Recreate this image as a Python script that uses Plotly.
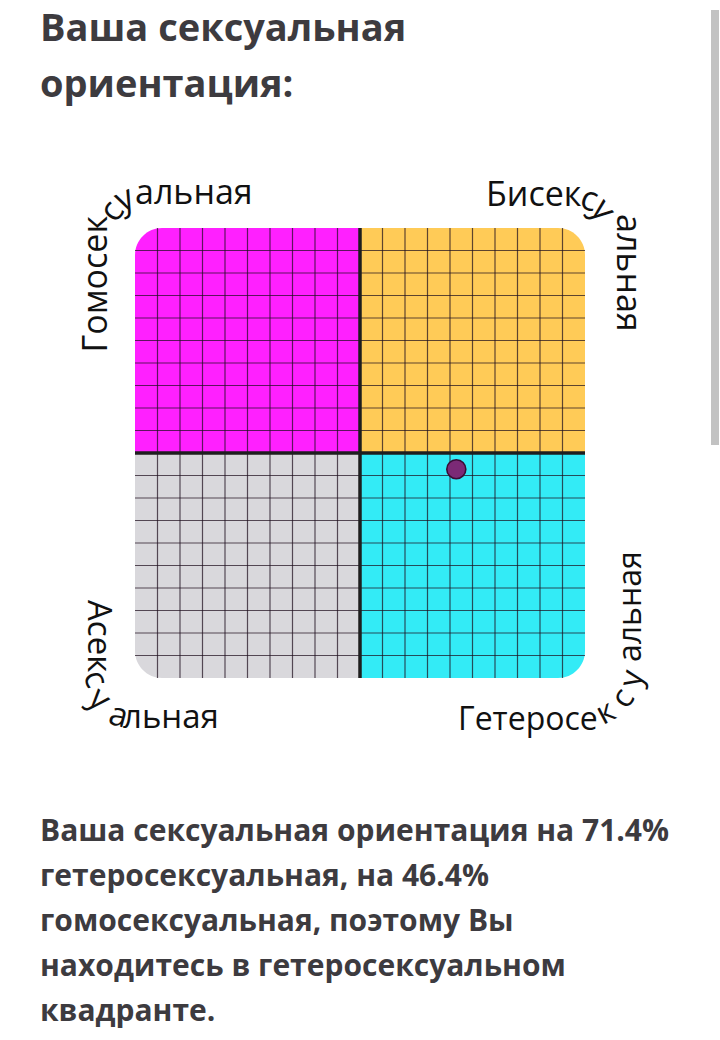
import plotly.graph_objects as go

# ---------------- data ----------------
title_lines = ["Ваша сексуальная", "ориентация:"]
result_lines = [
    "Ваша сексуальная ориентация на 71.4%",
    "гетеросексуальная, на 46.4%",
    "гомосексуальная, поэтому Вы",
    "находитесь в гетеросексуальном",
    "квадранте.",
]
quadrant_names = ["Гомосексуальная", "Бисексуальная", "Асексуальная", "Гетеросексуальная"]
hetero_pct = [71.4]   # x
homo_pct = [46.4]     # y
grid_ticks = [i * 5 for i in range(1, 20) if i != 10]

# ---------------- geometry helpers ----------------
W, H = 720, 1040
L, R, T, B = 135, 585, 228, 678


def px(x):
    return (x - L) / (R - L)


def py(y):
    return (B - y) / (B - T)


fig = go.Figure()

# quadrant fills with rounded outer corners
r = 6.0
k = 0.5523 * r
colors = {"tl": "#ff20ff", "tr": "#ffcb57", "bl": "#d9d8dc", "br": "#33ebf6"}
paths = {
    "tl": f"M 0 50 L 0 {100-r} C 0 {100-r+k} {r-k} 100 {r} 100 L 50 100 L 50 50 Z",
    "tr": f"M 50 50 L 50 100 L {100-r} 100 C {100-r+k} 100 100 {100-r+k} 100 {100-r} L 100 50 Z",
    "bl": f"M 0 50 L 50 50 L 50 0 L {r} 0 C {r-k} 0 0 {r-k} 0 {r} Z",
    "br": f"M 50 50 L 100 50 L 100 {r} C 100 {r-k} {100-r+k} 0 {100-r} 0 L 50 0 Z",
}
shapes = []
for q in ["tl", "tr", "bl", "br"]:
    shapes.append(dict(type="path", path=paths[q], fillcolor=colors[q],
                       line=dict(width=0), layer="below", xref="x", yref="y"))

grid_col = "rgba(30,15,30,0.72)"
for t in grid_ticks:
    shapes.append(dict(type="line", x0=t, x1=t, y0=0, y1=100, xref="x", yref="y",
                       line=dict(color=grid_col, width=1.2), layer="below"))
    shapes.append(dict(type="line", x0=0, x1=100, y0=t, y1=t, xref="x", yref="y",
                       line=dict(color=grid_col, width=1.2), layer="below"))
# central axes
shapes.append(dict(type="line", x0=50, x1=50, y0=0, y1=100, xref="x", yref="y",
                   line=dict(color="#1e1e1e", width=3.5), layer="below"))
shapes.append(dict(type="line", x0=0, x1=100, y0=50, y1=50, xref="x", yref="y",
                   line=dict(color="#1e1e1e", width=3.5), layer="below"))
# page scrollbar
shapes.append(dict(type="rect", xref="paper", yref="paper",
                   x0=px(711), x1=px(719), y0=py(10), y1=py(445),
                   fillcolor="#c2c2c2", line=dict(width=0)))

fig.add_trace(go.Scatter(
    x=hetero_pct, y=homo_pct, mode="markers",
    marker=dict(size=19, color="#7b2a76", line=dict(color="#3a0d36", width=1.6)),
    hoverinfo="skip", showlegend=False))

annotations = []


def label(text, x, y, angle=0, size=34, color="#111111", anchor="center", weight=400):
    annotations.append(dict(
        text=text, x=px(x), y=py(y), xref="paper", yref="paper",
        xanchor=anchor, yanchor="middle", showarrow=False, textangle=angle,
        font=dict(family="Open Sans", size=size, color=color, weight=weight)))


# curved corner labels (split into segments along the path)
homo, bi, ase, het = quadrant_names
# Гомосексуальная
label(homo[:7], 93.5, 284, -90)
label(homo[7], 110, 210, -55)
label(homo[8], 124, 197, -25)
label(homo[9:], 194, 191, 0)
# Бисексуальная
label(bi[:5], 534, 193, 0)
label(bi[5], 590, 197, 18)
label(bi[6], 605, 209, 52)
label(bi[7:], 630, 273, 90)
# Асексуальная
label(ase[:4], 101, 636, 90, size=33)
label(ase[4], 98, 678, 70, size=33)
label(ase[5], 101, 697, 42, size=33)
label(ase[6], 119, 713, 15, size=33)
label(ase[7:], 171, 715, 0, size=33)
# Гетеросексуальная
label(het[:8], 528, 717, 0, size=32)
label(het[8], 604, 710, -28, size=32)
label(het[9], 620, 697, -55, size=32)
label(het[10], 629, 678, -78, size=32)
label(het[11:], 628, 607, -90, size=32)

# title
tcol = "#3d3b3f"
label(title_lines[0], 38, 26, 0, size=38, color=tcol, anchor="left", weight=700)
label(title_lines[1], 38, 82, 0, size=38, color=tcol, anchor="left", weight=700)

# result text
base_y = 829
for i, line in enumerate(result_lines):
    label(line, 38, base_y + i * 45.2, 0, size=30, color=tcol, anchor="left", weight=700)

fig.update_layout(
    width=W, height=H, autosize=False,
    margin=dict(l=L, r=W - R, t=T, b=H - B, pad=0),
    paper_bgcolor="white", plot_bgcolor="white",
    xaxis=dict(range=[0, 100], visible=False, fixedrange=True),
    yaxis=dict(range=[0, 100], visible=False, fixedrange=True),
    shapes=shapes, annotations=annotations, showlegend=False,
)

fig.write_html("out.html", config={"displayModeBar": False})
